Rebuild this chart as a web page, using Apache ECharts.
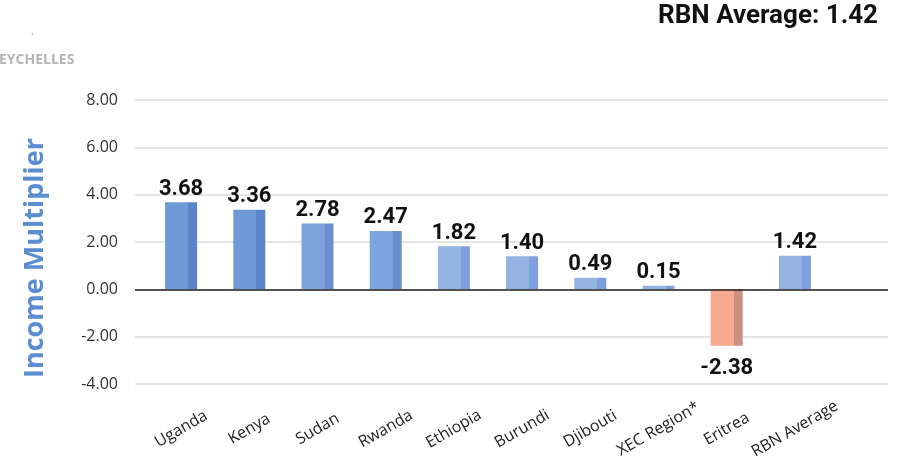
<!DOCTYPE html>
<html>
  <head>
    <meta charset="UTF-8">
    <title>Income Multiplier</title>
    <script src="https://cdn.jsdelivr.net/npm/echarts@6/dist/echarts.min.js"></script>
    <style>
      html, body { margin: 0; padding: 0; background: #fff; }
    </style>
  </head>
  <body>
    <div id="box" style="width:902px;height:459px"></div>
    <script>
        var categories = ['Uganda', 'Kenya', 'Sudan', 'Rwanda', 'Ethiopia', 'Burundi',
                          'Djibouti', 'XEC Region*', 'Eritrea', 'RBN Average'];
        var multipliers = [3.68, 3.36, 2.78, 2.47, 1.82, 1.40, 0.49, 0.15, -2.38, 1.42];
        var yTicks = [-4, 8, 2];   // min, max, step
        var avgText = 'RBN Average: 1.42';

        // front / side colour of each bar (fake 3d look)
        var faces = [
            ['#6f9ad8', '#5a84cc'], ['#6f9ad8', '#5a84cc'],
            ['#7fa4dd', '#6a8fd1'], ['#7fa4dd', '#6a8fd1'],
            ['#93b3e3', '#7e9fdb'], ['#93b3e3', '#7e9fdb'],
            ['#93b3e3', '#7e9fdb'], ['#93b3e3', '#7e9fdb'],
            ['#f7a98d', '#c99082'], ['#93b3e3', '#7e9fdb']
        ];

        function faceColor(i) {
            return {
                type: 'linear', x: 0, y: 0, x2: 1, y2: 0,
                colorStops: [
                    {offset: 0, color: faces[i][0]},
                    {offset: 0.72, color: faces[i][0]},
                    {offset: 0.72, color: faces[i][1]},
                    {offset: 1, color: faces[i][1]}
                ]
            };
        }

        var myChart = echarts.init(document.getElementById('box'));
        myChart.setOption({
            animation: false,
            textStyle: {fontFamily: 'Open Sans'},
            graphic: [
                {type: 'text', right: 24, top: 3,
                 style: {text: avgText, font: 'bold 26px Roboto', fill: '#111'}},
                {type: 'text', left: -1, top: 53,
                 style: {text: 'EYCHELLES', font: 'bold 14px "Open Sans"', fill: '#b4b4b4'}},
                {type: 'text', left: 31, top: 34,
                 style: {text: '`', font: '10px "Open Sans"', fill: '#999'}},
                {type: 'text', x: 35, y: 258, rotation: Math.PI / 2,
                 style: {text: 'Income Multiplier', font: 'bold 27px "Open Sans"',
                         fill: '#5b8ed0', align: 'center', verticalAlign: 'middle'}}
            ],
            grid: [
                // background grid lines span wider than the bars
                {left: 135, right: 14, top: 100, bottom: 75, outerBoundsMode: 'none'},
                {left: 147, right: 73, top: 100, bottom: 75, outerBoundsMode: 'none'}
            ],
            xAxis: [
                {gridIndex: 0, type: 'category', data: [''], show: false},
                {
                    gridIndex: 1, type: 'category', data: categories,
                    axisLine: {show: false},
                    axisTick: {show: false},
                    axisLabel: {
                        interval: 0, rotate: 30, margin: 45,
                        align: 'center', verticalAlign: 'middle',
                        fontSize: 16, color: '#222', fontFamily: 'Open Sans'
                    }
                }
            ],
            yAxis: [
                {
                    gridIndex: 0, type: 'value',
                    min: yTicks[0], max: yTicks[1], interval: yTicks[2],
                    axisLabel: {
                        formatter: function (v) { return v.toFixed(2); },
                        fontSize: 16, color: '#333', margin: 17
                    },
                    axisLine: {show: false},
                    axisTick: {show: false},
                    splitLine: {lineStyle: {color: '#dcdcdc', width: 1.5}}
                },
                {
                    gridIndex: 1, type: 'value',
                    min: yTicks[0], max: yTicks[1], interval: yTicks[2],
                    show: false
                }
            ],
            series: [
                {
                    type: 'line', xAxisIndex: 0, yAxisIndex: 0, data: [],
                    markLine: {
                        silent: true, symbol: 'none', label: {show: false},
                        lineStyle: {color: '#222', width: 1.5, type: 'solid'},
                        data: [{yAxis: 0}]
                    }
                },
                {
                    type: 'bar', xAxisIndex: 1, yAxisIndex: 1,
                    barWidth: 32,
                    data: multipliers.map(function (v, i) {
                        return {
                            value: v,
                            itemStyle: {color: faceColor(i)},
                            label: {distance: v < 0 ? 12 : 2}
                        };
                    }),
                    label: {
                        show: true, position: 'outside',
                        formatter: function (p) { return p.value.toFixed(2); },
                        fontSize: 22, fontWeight: 'bold', color: '#111', fontFamily: 'Roboto'
                    },
                    z: 3
                }
            ]
        });
    </script>
  </body>
</html>
